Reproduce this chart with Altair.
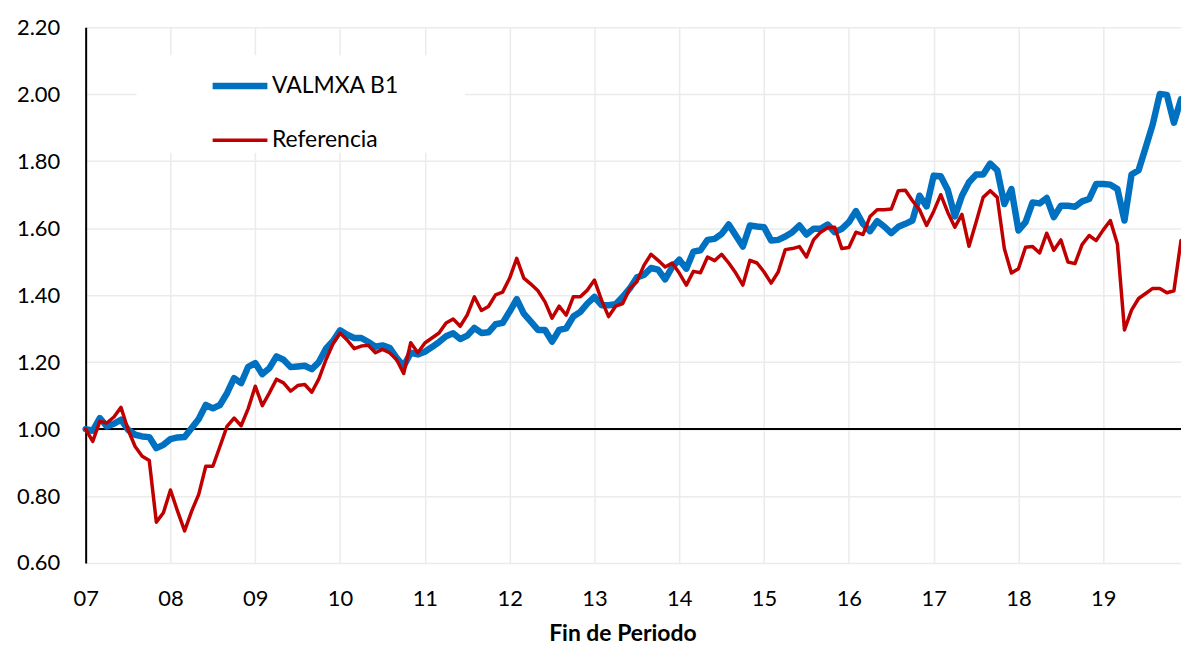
import altair as alt
import pandas as pd

meses = list(range(156))

valmxa = [
    1.000, 0.995, 1.033, 1.008, 1.016, 1.028, 0.998, 0.983, 0.978, 0.976, 0.943, 0.953,
    0.970, 0.975, 0.976, 1.003, 1.030, 1.072, 1.062, 1.072, 1.107, 1.152, 1.137, 1.186,
    1.197, 1.164, 1.182, 1.217, 1.207, 1.185, 1.187, 1.189, 1.179, 1.200, 1.240, 1.263,
    1.295, 1.282, 1.272, 1.272, 1.260, 1.246, 1.250, 1.243, 1.213, 1.188, 1.228, 1.223,
    1.231, 1.245, 1.260, 1.277, 1.286, 1.269, 1.279, 1.302, 1.287, 1.289, 1.313, 1.317,
    1.351, 1.388, 1.345, 1.321, 1.296, 1.296, 1.261, 1.296, 1.301, 1.336, 1.350, 1.375,
    1.395, 1.370, 1.370, 1.373, 1.395, 1.420, 1.453, 1.460, 1.481, 1.476, 1.447, 1.484,
    1.506, 1.479, 1.530, 1.534, 1.565, 1.568, 1.583, 1.611, 1.578, 1.545, 1.608, 1.605,
    1.603, 1.563, 1.565, 1.575, 1.588, 1.608, 1.581, 1.598, 1.598, 1.611, 1.588, 1.598,
    1.618, 1.651, 1.613, 1.591, 1.621, 1.605, 1.585, 1.604, 1.613, 1.623, 1.697, 1.665,
    1.757, 1.755, 1.714, 1.635, 1.697, 1.737, 1.760, 1.760, 1.793, 1.773, 1.672, 1.717,
    1.593, 1.618, 1.677, 1.674, 1.690, 1.633, 1.667, 1.667, 1.664, 1.680, 1.687, 1.732,
    1.732, 1.730, 1.717, 1.623, 1.760, 1.773, 1.841, 1.910, 2.001, 1.998, 1.915, 1.985,
]

referencia = [
    1.000, 0.963, 1.023, 1.018, 1.036, 1.065, 0.998, 0.948, 0.919, 0.906, 0.722, 0.750,
    0.818, 0.755, 0.696, 0.755, 0.805, 0.889, 0.889, 0.948, 1.008, 1.033, 1.010, 1.061,
    1.128, 1.070, 1.108, 1.149, 1.138, 1.113, 1.130, 1.133, 1.110, 1.150, 1.207, 1.255,
    1.287, 1.266, 1.240, 1.248, 1.250, 1.228, 1.238, 1.228, 1.208, 1.166, 1.258, 1.228,
    1.257, 1.272, 1.287, 1.317, 1.329, 1.307, 1.341, 1.395, 1.354, 1.366, 1.401, 1.409,
    1.451, 1.510, 1.451, 1.433, 1.413, 1.380, 1.331, 1.367, 1.340, 1.395, 1.395, 1.415,
    1.445, 1.385, 1.336, 1.367, 1.375, 1.420, 1.440, 1.489, 1.522, 1.504, 1.484, 1.496,
    1.466, 1.430, 1.471, 1.467, 1.514, 1.503, 1.522, 1.496, 1.466, 1.430, 1.504, 1.496,
    1.469, 1.436, 1.469, 1.536, 1.539, 1.545, 1.514, 1.565, 1.588, 1.601, 1.603, 1.539,
    1.542, 1.588, 1.581, 1.635, 1.655, 1.655, 1.657, 1.712, 1.713, 1.682, 1.655, 1.608,
    1.650, 1.700, 1.647, 1.603, 1.641, 1.546, 1.618, 1.692, 1.712, 1.692, 1.539, 1.466,
    1.479, 1.543, 1.545, 1.526, 1.585, 1.534, 1.565, 1.499, 1.494, 1.551, 1.578, 1.563,
    1.595, 1.623, 1.553, 1.296, 1.355, 1.390, 1.405, 1.420, 1.420, 1.407, 1.413, 1.563,
]

etiquetas_x = ["07", "08", "09", "10", "11", "12", "13", "14", "15", "16", "17", "18", "19"]
ticks_x = [12 * i for i in range(len(etiquetas_x))]
ticks_y = [0.6, 0.8, 1.0, 1.2, 1.4, 1.6, 1.8, 2.0, 2.2]
series = ["VALMXA B1", "Referencia"]
colores = ["#0070C0", "#C00000"]
grosores = [6.5, 3.5]

n = len(meses)
df = pd.DataFrame({
    "mes": meses + meses,
    "valor": valmxa + referencia,
    "serie": [series[0]] * n + [series[1]] * n,
})

FONT = "Lato"
label_expr = "[" + ",".join("'%s'" % e for e in etiquetas_x) + "][round(datum.value/12)]"

x_enc = alt.X(
    "mes:Q",
    scale=alt.Scale(domain=[0, 155], nice=False, zero=False),
    axis=alt.Axis(
        values=ticks_x,
        labelExpr=label_expr,
        title="Fin de Periodo",
        titleFont=FONT,
        titleFontSize=23,
        titleFontWeight="bold",
        titleColor="black",
        titleBaseline="alphabetic",
        titleY=78,
        titleX=539,
        titleAlign="center",
        grid=True,
        domain=False,
        ticks=False,
        tickSize=0,
        labelPadding=26,
        labelFlush=False,
    ),
)

y_enc = alt.Y(
    "valor:Q",
    scale=alt.Scale(domain=[0.6, 2.2], nice=False, zero=False),
    axis=alt.Axis(
        values=ticks_y,
        format=".2f",
        title=None,
        grid=True,
        domain=True,
        domainColor="black",
        domainWidth=2,
        ticks=False,
        tickSize=0,
        labelPadding=26,
    ),
)

leyenda = alt.Legend(
    title=" ",
    titleOrient="right",
    titlePadding=66,
    titleFontSize=10,
    orient="none",
    legendX=51,
    legendY=28,
    fillColor="white",
    padding=0,
    symbolType="stroke",
    symbolSize=3025,
    symbolOffset=73,
    labelOffset=1,
    labelFont=FONT,
    labelFontSize=23,
    labelColor="black",
    rowPadding=12,
)

color_enc = alt.Color("serie:N", scale=alt.Scale(domain=series, range=colores), legend=leyenda)
width_enc = alt.StrokeWidth("serie:N", scale=alt.Scale(domain=series, range=grosores), legend=leyenda)

base = alt.Chart(df)

regla = base.mark_rule(color="black", strokeWidth=2).encode(y=alt.datum(1.0))

linea_valmxa = base.transform_filter(alt.datum.serie == series[0]).mark_line(
    strokeJoin="round", strokeCap="round"
).encode(x=x_enc, y=y_enc, color=color_enc, strokeWidth=width_enc)

linea_ref = base.transform_filter(alt.datum.serie == series[1]).mark_line(
    strokeJoin="round", strokeCap="round"
).encode(x=x_enc, y=y_enc, color=color_enc, strokeWidth=width_enc)

chart = (
    alt.layer(regla, linea_valmxa, linea_ref)
    .properties(
        width=1100,
        height=538,
        autosize=alt.AutoSizeParams(type="none"),
        padding={"left": 78, "top": 18, "right": 0, "bottom": 84},
        background="white",
    )
    .configure_axis(
        labelFont=FONT,
        labelFontSize=22,
        labelColor="black",
        gridColor="#EBEBEB",
        gridWidth=1.5,
    )
    .configure_view(stroke=None)
)

chart.save("out.html", embed_options={"renderer": "svg", "actions": False})
